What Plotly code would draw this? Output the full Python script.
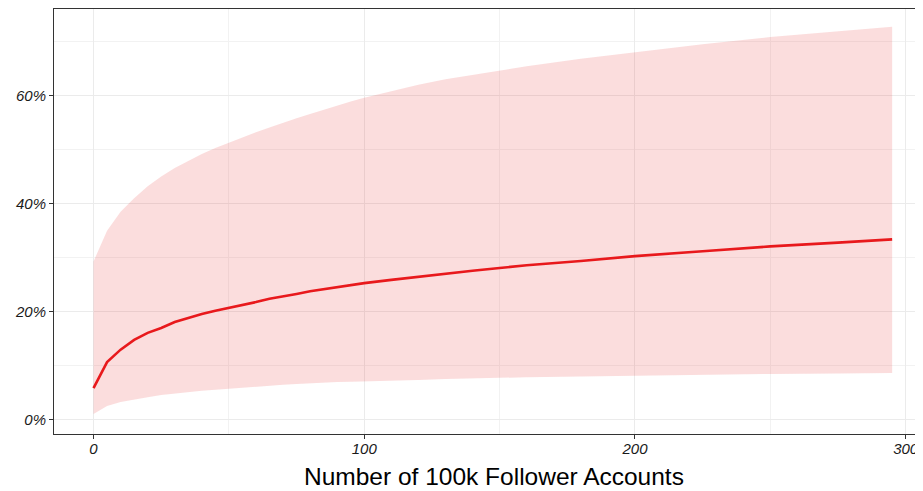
"""Predicted share vs number of 100k follower accounts"""
import plotly.graph_objects as go

# values (x = accounts, y = percent)
accounts = [0, 5, 10, 15, 20, 25, 30, 35, 40, 45, 50, 55, 60, 65, 70, 75, 80, 85, 90, 95, 100,
            110, 120, 130, 140, 150, 160, 180, 200, 225, 250, 275, 295]
fit_pct = [5.9, 10.7, 13.0, 14.8, 16.1, 17.0, 18.1, 18.9, 19.6, 20.2, 20.7, 21.3, 21.8, 22.4,
           22.8, 23.3, 23.8, 24.2, 24.6, 24.9, 25.3,
           25.9, 26.5, 27.1, 27.6, 28.1, 28.6, 29.4, 30.3, 31.2, 32.1, 32.8, 33.4]
upper_pct = [29.3, 35.0, 38.5, 41.0, 43.2, 45.0, 46.6, 47.9, 49.2, 50.3, 51.3, 52.3, 53.2, 54.1,
             55.0, 55.8, 56.6, 57.4, 58.2, 58.9, 59.6,
             60.8, 62.0, 63.0, 63.8, 64.6, 65.4, 66.8, 68.0, 69.5, 70.8, 71.9, 72.7]
lower_pct = [1.1, 2.6, 3.3, 3.8, 4.2, 4.6, 4.9, 5.15, 5.4, 5.6, 5.8, 6.0, 6.2, 6.35,
             6.5, 6.65, 6.8, 6.9, 7.0, 7.05, 7.1,
             7.25, 7.4, 7.55, 7.7, 7.8, 7.9, 8.05, 8.2, 8.35, 8.5, 8.6, 8.7]

x_ticks = [0, 100, 200, 300]
y_ticks = [0, 20, 40, 60]
y_labels = ["0%", "20%", "40%", "60%"]
x_title = "Number of 100k Follower Accounts"

FONT = "Liberation Sans, Arial, Helvetica, sans-serif"

fig = go.Figure()
fig.add_trace(go.Scatter(x=accounts, y=lower_pct, mode="lines",
                         line=dict(width=0), hoverinfo="skip", showlegend=False))
fig.add_trace(go.Scatter(x=accounts, y=upper_pct, mode="lines",
                         line=dict(width=0), fill="tonexty",
                         fillcolor="rgba(228,26,28,0.15)", showlegend=False))
fig.add_trace(go.Scatter(x=accounts, y=fit_pct, mode="lines",
                         line=dict(color="#E8191C", width=2.6), showlegend=False))

axis_common = dict(
    showline=True, linecolor="#333333", linewidth=1, mirror=True,
    ticks="outside", ticklen=4, tickcolor="#333333", tickwidth=1,
    gridcolor="#EBEBEB", gridwidth=1.2, zeroline=False, automargin=False,
    tickfont=dict(family=FONT, size=15, color="#1a1a1a", style="italic"),
)

fig.update_xaxes(range=[-14.6, 306.4], tickvals=x_ticks, ticklabelstandoff=-3,
                 minor=dict(showgrid=True, gridcolor="#F2F2F2", gridwidth=0.6,
                            tickvals=[50, 150, 250], ticks=""),
                 **axis_common)
fig.update_yaxes(range=[-2.6, 76.0], tickvals=y_ticks, ticktext=y_labels,
                 minor=dict(showgrid=True, gridcolor="#F2F2F2", gridwidth=0.6,
                            tickvals=[10, 30, 50, 70], ticks=""),
                 **axis_common)

# axis title as an annotation so it can sit exactly under the panel
fig.add_annotation(text=x_title, xref="paper", yref="paper", x=0.506, y=-0.099,
                   xanchor="center", yanchor="middle", showarrow=False,
                   font=dict(family=FONT, size=24.5, color="black"))

# page body has an 8px margin, so the figure is sized to fit the window
fig.update_layout(
    width=915, height=483,
    margin=dict(l=46, r=0, t=1, b=57),
    plot_bgcolor="white", paper_bgcolor="white",
    font=dict(family=FONT),
)

fig.write_html("out.html")
